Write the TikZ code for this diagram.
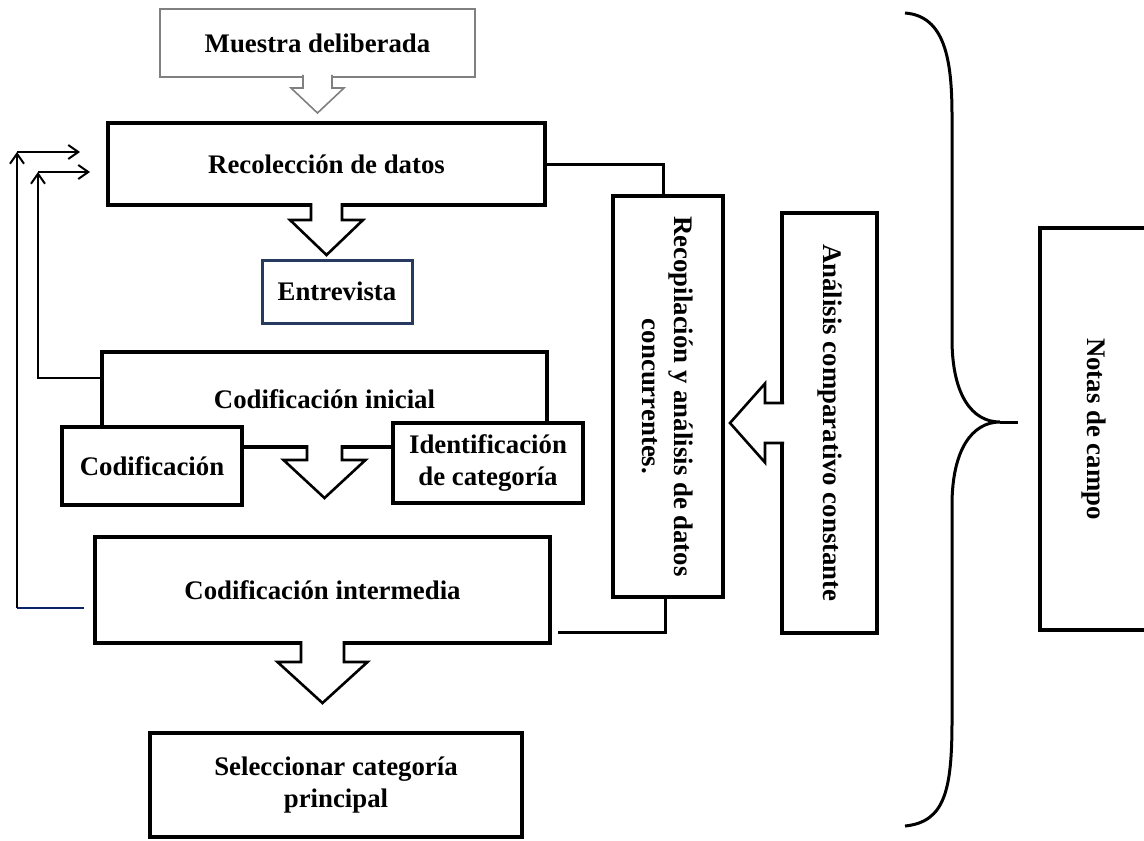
\documentclass[tikz,border=0pt]{standalone}
\usepackage{fontspec}
\setmainfont{Liberation Serif}
\usetikzlibrary{arrows.meta, positioning}
\definecolor{azulBorde}{RGB}{38,58,96}
\definecolor{azulLinea}{RGB}{10,36,106}

% flecha hueca: [opciones]{punto}{medio cuerpo}{largo cuerpo}{media cabeza}{largo cabeza}
\newcommand{\flechaHueca}[6][]{%
  \begin{scope}[shift={(#2)}, hueca, #1]
    \fill[white] (-#3,-3) -- (-#3,#4) -- (-#5,#4) -- (0,#4+#6) -- (#5,#4) -- (#3,#4) -- (#3,-3) -- cycle;
    \draw (-#3,-2) -- (-#3,#4) -- (-#5,#4) -- (0,#4+#6) -- (#5,#4) -- (#3,#4) -- (#3,-2);
  \end{scope}}

\begin{document}
\begin{tikzpicture}[
  x=0.5pt, y=-0.5pt,
  caja/.style={rectangle, draw, line width=2pt, fill=white, outer sep=0pt, inner sep=2pt,
               align=center, font=\bfseries\fontsize{13.4}{16}\selectfont},
  vcaja/.style={caja, rotate=-90},
  hueca/.style={line width=1.3pt, line join=miter},
  linea/.style={line width=1.5pt},
  ret/.style={line width=1pt, -{Straight Barb[length=5pt,width=7pt]}}
]
\useasboundingbox (0,0) rectangle (1144,840);
\clip (0,0) rectangle (1144,840);

% Columna principal
\node[caja, draw=gray, line width=0.8pt, minimum width=157.5pt, minimum height=34pt] (muestra) at (317.5,43) {Muestra deliberada};
\node[caja, minimum width=218.5pt, minimum height=41pt, below=23pt of muestra, xshift=4.5pt] (recol) {Recolección de datos};
\node[caja, draw=azulBorde, line width=1.5pt, minimum width=75pt, minimum height=31.5pt, below=27.5pt of recol, xshift=5.25pt] (entrev) {Entrevista};
\node[caja, minimum width=222.5pt, minimum height=47.5pt, below=14.5pt of entrev, xshift=-6.25pt] (cinic) {Codificación inicial};
\flechaHueca{cinic.south}{17.5}{13}{41}{38}
\node[caja, minimum width=90pt, minimum height=39pt] (codif) at (152,466) {Codificación};
\node[caja, minimum width=95pt, minimum height=40pt] (ident) at (488,463) {Identificación\\de categoría};
\node[caja, minimum width=227.5pt, minimum height=53pt, below=45pt of cinic, xshift=-1pt] (cinter) {Codificación intermedia};
\node[caja, minimum width=186pt, minimum height=52pt, below=45pt of cinter, xshift=6.75pt] (selec) {Seleccionar categoría\\principal};

\flechaHueca[draw=gray, line width=0.8pt]{muestra.south}{14.5}{11}{26.5}{25}
\flechaHueca{recol.south}{15.5}{15}{36.5}{35}
\flechaHueca{cinter.south}{21.5}{19}{45}{41}

% Columnas verticales
\node[vcaja, minimum width=200.5pt, minimum height=55pt] (recop) at (668,396.5) {Recopilación y análisis de datos\\concurrentes.};
\node[vcaja, minimum width=210pt, minimum height=47.5pt] (analisis) at (829.5,423) {Análisis comparativo constante};
\node[vcaja, minimum width=201pt, minimum height=54pt] (notas) at (1094,429) {Notas de campo};
\flechaHueca[rotate=-90]{analisis.south}{20}{17}{39.5}{35}

% Conexiones
\coordinate (c2) at (558,632);
\draw[linea] (recol.east) -| ([xshift=-2.5pt]recop.west);
\draw[linea] ([xshift=-1.5pt]recop.east) |- (c2);

% Retornos
\coordinate (r1) at (38,172);
\coordinate (r1f) at (90,172);
\draw[ret] ([yshift=10.75pt]cinic.west) -| (r1);
\draw[ret] (r1) -- (r1f);
\coordinate (r2i) at (84,608);
\coordinate (r2) at (17,608);
\coordinate (r3) at (17,152);
\coordinate (r3f) at (80,152);
\draw[line width=1pt, azulLinea] (r2i) -- (r2);
\draw[ret] (r2) -- (r3);
\draw[ret] (r3) -- (r3f);

% Llave
\draw[line width=1.5pt] (905,13) .. controls (945,16) and (952,60) .. (952,116) -- (952,339)
  .. controls (952,395) and (972,422) .. (1000,422)
  .. controls (972,422) and (952,450) .. (952,505) -- (952,720)
  .. controls (952,790) and (945,822) .. (905,826);
\draw[line width=1.5pt] (1000,422) -- (1018,422);

\end{tikzpicture}
\end{document}
